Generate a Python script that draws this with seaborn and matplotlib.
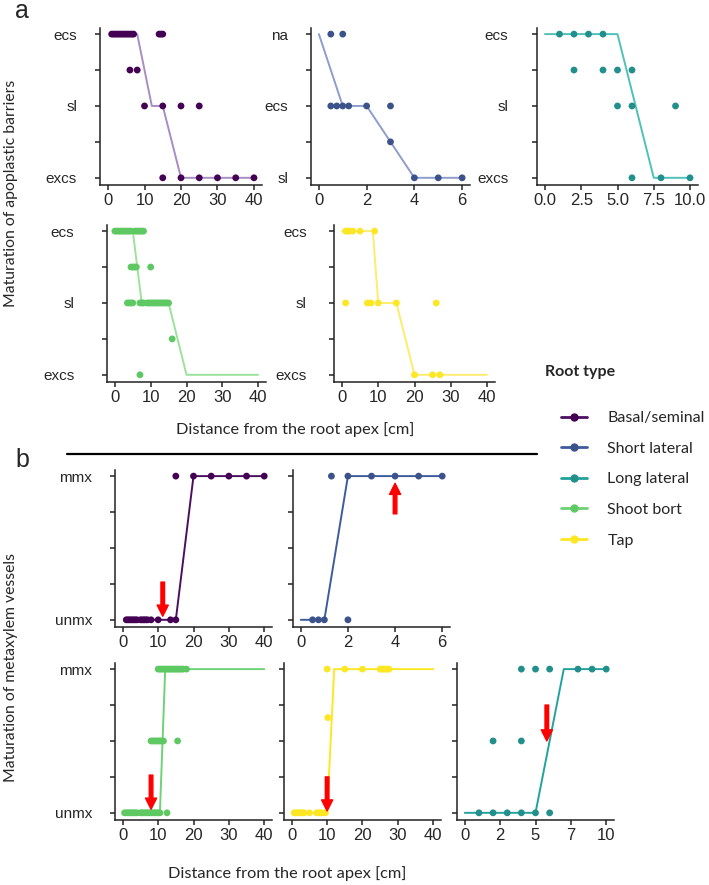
"""Maturation of apoplastic barriers (a) and metaxylem vessels (b) along the root."""

import pandas as pd
import matplotlib.pyplot as plt
import seaborn as sns
from matplotlib.lines import Line2D

W, H = 709, 885

ROOT_TYPES = ['Basal/seminal', 'Short lateral', 'Long lateral', 'Shoot bort', 'Tap']
POINT_COLORS = ['#440154', '#3b528b', '#21908d', '#5ec962', '#fde725']
LINE_COLORS_A = ['#a88dc2', '#8d9dcc', '#4fc1b8', '#9be39c', '#fdec6e']
LINE_COLORS_B = ['#4b0f61', '#3e5b9c', '#23a29c', '#6fd276', '#fde725']

# observations: (level, [distances in cm]); level 0..4 on the ordinal axis
A_BASAL_PTS = [(4, [1, 1.5, 2, 2.5, 3, 3.5, 4, 4.5, 5, 5.5, 6, 6.5, 7, 14, 14.5, 15]),
               (3, [6, 8]), (2, [10, 15, 20, 25]), (0, [15, 20, 25, 30, 35, 40])]
A_BASAL_LINE = ([1, 8, 12, 15, 20, 40], [4, 4, 2, 2, 0, 0])
A_SHORT_PTS = [(4, [0.5, 1.0]), (2, [0.5, 0.75, 1.0, 1.25, 2.0, 3.0]), (1, [3.0]),
               (0, [4, 5, 6])]
A_SHORT_LINE = ([0, 1, 2, 4, 6], [4, 2, 2, 0, 0])
A_LONG_PTS = [(4, [1, 2, 3, 4]), (3, [2, 4, 5, 6]), (2, [5, 6, 9]), (0, [6, 8, 10])]
A_LONG_LINE = ([0, 5, 7.5, 10], [4, 4, 0, 0])
A_SHOOT_PTS = [(4, [0, 0.5, 1, 1.5, 2, 2.5, 3, 3.5, 4, 4.5, 5.5, 6, 6.5, 7, 7.5, 8]),
               (3, [4.5, 5, 5.5, 6, 10]),
               (2, [3.5, 4, 4.5, 5, 7, 7.5, 8, 9, 9.5, 10, 10.5, 11, 11.5, 12, 12.5,
                    13, 13.5, 14, 14.5, 15]),
               (1, [16]), (0, [7])]
A_SHOOT_LINE = ([0, 5, 7.5, 15, 20, 40], [4, 4, 2, 2, 0, 0])
A_TAP_PTS = [(4, [1, 1.5, 2, 3, 5, 9]), (2, [1, 7, 8, 10, 15, 26]), (0, [20, 25, 27])]
A_TAP_LINE = ([0, 8.5, 10, 15, 20, 40], [4, 4, 2, 2, 0, 0])

B_BASAL_PTS = [(0, [1, 1.5, 2, 2.5, 3, 3.5, 4, 5, 5.5, 6, 6.5, 7, 8, 10, 13.5, 15]),
               (4, [15, 20, 25, 30, 35, 40])]
B_BASAL_LINE = ([1, 15, 20, 40], [0, 0, 4, 4])
B_SHORT_PTS = [(0, [0.5, 0.75, 1.0, 2.0]), (4, [1.3, 2, 3, 4, 5, 6])]
B_SHORT_LINE = ([0, 1, 2, 6], [0, 0, 4, 4])
B_SHOOT_PTS = [(0, [0.5, 1, 1.5, 2, 2.5, 3, 3.5, 4, 5, 5.5, 6, 6.5, 7, 7.5, 8, 8.5, 9,
                    9.5, 10, 10.5, 12.5]),
               (2, [8, 8.5, 9, 9.5, 10, 10.5, 11, 11.5, 15.5]),
               (4, [10, 10.5, 11, 11.5, 12, 12.5, 13, 13.5, 14, 14.5, 15, 15.5, 16,
                    16.5, 17, 18])]
B_SHOOT_LINE = ([0.5, 10.5, 12, 40], [0, 0, 4, 4])
B_TAP_PTS = [(0, [0.7, 1, 1.5, 2, 2.5, 3, 3.5, 5, 7, 7.5, 8, 8.5, 9.5]), (2.65, [10.2]),
             (4, [10, 15, 20, 25, 25.5, 26, 26.5, 27, 27.5])]
B_TAP_LINE = ([0.5, 10, 12, 40], [0, 0, 4, 4])
B_LONG_PTS = [(0, [1, 2, 3, 4, 5, 6]), (2, [2, 4]), (4, [4, 5, 6, 8, 9, 10])]
B_LONG_LINE = ([0, 5, 7, 10], [0, 0, 4, 4])

# red arrows in b: (x, tail level, tip level)
B_ARROWS = {'basal': (11.3, 1.05, 0.1), 'short': (4, 2.95, 3.8), 'shoot': (8, 1.05, 0.1),
            'tap': (10, 1.0, 0.05), 'long': (5.8, 3.0, 2.0)}

YLAB_A = ['excs', '', 'sl', '', 'ecs']
YLAB_A_SHORT = ['sl', '', 'ecs', '', 'na']
YLAB_B = ['unmx', '', '', '', 'mmx']
XT_40 = [0, 10, 20, 30, 40]
XT_6 = [0, 2, 4, 6]
XT_10 = [0, 2.5, 5, 7.5, 10]

sns.set_style('ticks')
plt.rcParams['font.family'] = ['Liberation Sans', 'DejaVu Sans']
LABEL_FONT = ['Lato', 'DejaVu Sans']


def to_frame(pts):
    rows = [(x, lvl) for lvl, xs in pts for x in xs]
    return pd.DataFrame(rows, columns=['x', 'y'])


def panel(fig, px_box, xmax, pts, line, idx, line_colors, xticks, xlabels, ylabels,
          ypad=13, arrow=None, lw=1.4):
    l, t, r, b = px_box
    ax = fig.add_axes([l / W, 1 - b / H, (r - l) / W, (b - t) / H])
    sns.lineplot(x=line[0], y=line[1], ax=ax, color=line_colors[idx], lw=lw,
                 sort=False, estimator=None, zorder=2)
    sns.scatterplot(data=to_frame(pts), x='x', y='y', ax=ax, color=POINT_COLORS[idx],
                    s=24, edgecolor='none', zorder=3)
    ax.set_xlim(-0.055 * xmax, 1.055 * xmax)
    ax.set_ylim(-0.2, 4.17)
    ax.set_xticks(xticks)
    ax.set_xticklabels(xlabels if xlabels else [str(v) for v in xticks], fontsize=12)
    ax.set_yticks(range(5))
    ax.set_yticklabels(ylabels if ylabels else [''] * 5, fontsize=11)
    ax.tick_params(axis='both', length=3.6, width=1.1, color='#222222')
    ax.tick_params(axis='y', pad=ypad)
    ax.tick_params(axis='x', pad=2)
    for side in ('left', 'bottom'):
        ax.spines[side].set_linewidth(1.1)
        ax.spines[side].set_color('#222222')
    sns.despine(ax=ax)
    ax.set_xlabel('')
    ax.set_ylabel('')
    if arrow is not None:
        x, tail, tip = arrow
        ax.annotate('', xy=(x, tip), xytext=(x, tail),
                    arrowprops=dict(color='#ff0000', width=2.6, headwidth=8,
                                    headlength=8, shrink=0), zorder=4)
    return ax


fig = plt.figure(figsize=(W / 100, H / 100), dpi=100)

# panel a
panel(fig, (100, 28, 262, 185), 40, A_BASAL_PTS, A_BASAL_LINE, 0, LINE_COLORS_A,
      XT_40, None, YLAB_A)
panel(fig, (311, 28, 470, 185), 6, A_SHORT_PTS, A_SHORT_LINE, 1, LINE_COLORS_A,
      XT_6, None, YLAB_A_SHORT)
panel(fig, (537, 28, 698, 185), 10, A_LONG_PTS, A_LONG_LINE, 2, LINE_COLORS_A,
      XT_10, ['0.0', '2.5', '5.0', '7.5', '10.0'], YLAB_A, ypad=17)
panel(fig, (107, 225, 266, 382), 40, A_SHOOT_PTS, A_SHOOT_LINE, 3, LINE_COLORS_A,
      XT_40, None, YLAB_A, ypad=20)
panel(fig, (334, 225, 495, 382), 40, A_TAP_PTS, A_TAP_LINE, 4, LINE_COLORS_A,
      XT_40, None, YLAB_A, ypad=16)

# panel b
panel(fig, (115, 470, 272, 627), 40, B_BASAL_PTS, B_BASAL_LINE, 0, LINE_COLORS_B,
      XT_40, None, YLAB_B, arrow=B_ARROWS['basal'])
panel(fig, (293, 470, 450, 627), 6, B_SHORT_PTS, B_SHORT_LINE, 1, LINE_COLORS_B,
      XT_6, None, None, arrow=B_ARROWS['short'])
panel(fig, (115, 663, 272, 820), 40, B_SHOOT_PTS, B_SHOOT_LINE, 3, LINE_COLORS_B,
      XT_40, None, YLAB_B, arrow=B_ARROWS['shoot'])
panel(fig, (284, 663, 441, 820), 40, B_TAP_PTS, B_TAP_LINE, 4, LINE_COLORS_B,
      XT_40, None, None, arrow=B_ARROWS['tap'])
panel(fig, (457, 663, 614, 820), 10, B_LONG_PTS, B_LONG_LINE, 2, LINE_COLORS_B,
      XT_10, ['0', '2', '5', '7', '10'], None, arrow=B_ARROWS['long'])

# panel letters, shared axis titles
fig.text(22 / W, 1 - 18 / H, 'a', fontsize=18, ha='center', va='baseline')
fig.text(22 / W, 1 - 467 / H, 'b', fontsize=18, ha='center', va='baseline')
fig.text(11 / W, 1 - 193 / H, 'Maturation of apoplastic barriers', rotation=90,
         ha='center', va='center', fontsize=11.3, family=LABEL_FONT)
fig.text(11 / W, 1 - 668 / H, 'Maturation of metaxylem vessels', rotation=90,
         ha='center', va='center', fontsize=11.3, family=LABEL_FONT)
fig.text(295 / W, 1 - 430 / H, 'Distance from the root apex [cm]',
         ha='center', va='center', fontsize=11.8, family=LABEL_FONT)
fig.text(287 / W, 1 - 874 / H, 'Distance from the root apex [cm]',
         ha='center', va='center', fontsize=11.8, family=LABEL_FONT)
fig.add_artist(Line2D([67 / W, 537 / W], [1 - 454 / H, 1 - 454 / H],
                      color='black', lw=1.6))

# legend
fig.text(545 / W, 1 - 372 / H, 'Root type', ha='left', va='center', fontsize=11.5,
         weight='bold', family=LABEL_FONT)
handles = [Line2D([], [], color=LINE_COLORS_B[i], lw=2, marker='o', markersize=5,
                  markerfacecolor=POINT_COLORS[i], markeredgecolor=POINT_COLORS[i])
           for i in range(len(ROOT_TYPES))]
fig.legend(handles, ROOT_TYPES, loc='upper left', bbox_to_anchor=(553 / W, 1 - 403 / H),
           frameon=False, borderpad=0, handlelength=1.6, handletextpad=1.3,
           labelspacing=1.03, prop={'family': LABEL_FONT, 'size': 11.5})

fig.savefig('out.png', dpi=100)
